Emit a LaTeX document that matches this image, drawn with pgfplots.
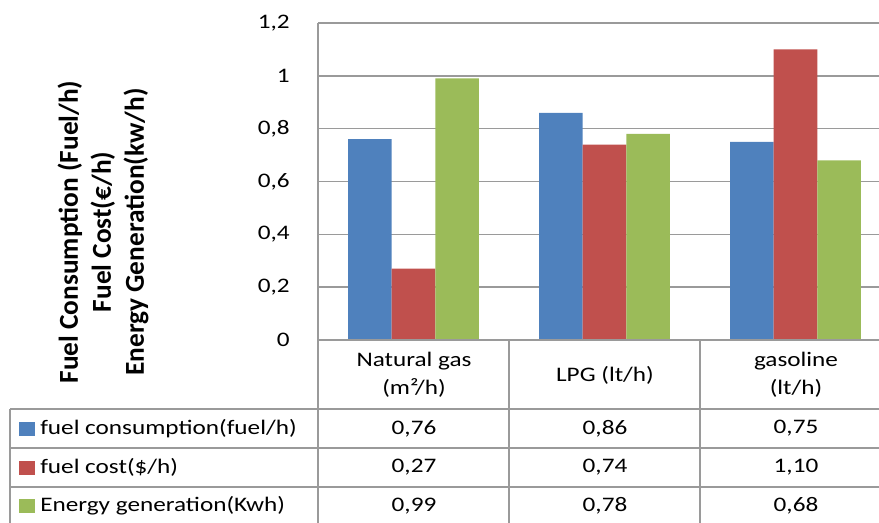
\documentclass[border=0pt]{standalone}
\usepackage{fontspec}
\setmainfont{Carlito}[FakeStretch=1.22]
\newfontfamily\ylabfont{Carlito}
\usepackage{pgfplots}
\pgfplotsset{compat=1.18}

\definecolor{cblue}{HTML}{4F81BD}
\definecolor{cred}{HTML}{C0504D}
\definecolor{cgreen}{HTML}{9BBB59}
\definecolor{lgray}{HTML}{9A9A9A}
\newcommand\tabfont{\fontsize{15.5}{21}\selectfont}

\begin{document}
\begin{tikzpicture}
  \useasboundingbox (0,0) rectangle (659.25pt,-391.5pt);
  \clip (0,0) rectangle (659.25pt,-391.5pt);

  \begin{axis}[
      at={(238.5pt,-255pt)}, anchor=south west,
      width=429.75pt, height=237.75pt, scale only axis,
      xmin=-0.5, xmax=2.5,
      ymin=0, ymax=1.2,
      xtick=\empty,
      ytick={0,0.2,0.4,0.6,0.8,1,1.2},
      ymajorgrids,
      grid style={lgray, line width=1.1pt},
      axis line style={draw=none},
      major tick length=0pt,
      ybar=0pt,
      bar width=0.228,
      /pgf/number format/use comma,
      /pgf/number format/fixed,
      /pgf/number format/precision=1,
      /pgf/number format/assume math mode=true,
      yticklabel style={font=\tabfont, anchor=east, inner sep=0pt, xshift=-21pt},
    ]
    % fuel consumption (fuel/h)
    \addplot[fill=cblue, draw=none] coordinates {(0,0.76) (1,0.86) (2,0.75)};
    % fuel cost ($/h)
    \addplot[fill=cred, draw=none] coordinates {(0,0.27) (1,0.74) (2,1.10)};
    % energy generation (kWh)
    \addplot[fill=cgreen, draw=none] coordinates {(0,0.99) (1,0.78) (2,0.68)};
  \end{axis}

  % data table under the chart (pixel coordinates)
  \begin{scope}[x=0.75pt, y=-0.75pt]
    \begin{scope}[draw=lgray, line width=1.1pt]
      \draw (318,23) -- (318,530);
      \draw (509,340) -- (509,530);
      \draw (700,340) -- (700,530);
      \draw (318,340) -- (890,340);
      \draw (10,409) -- (890,409);
      \draw (10,448) -- (890,448);
      \draw (10,487) -- (890,487);
      \draw (10,409) -- (10,530);
    \end{scope}

    \begin{scope}[every node/.style={font=\tabfont, align=center, inner sep=0pt}]
      \node at (414,375) {Natural gas\\(m²/h)};
      \node at (605,375) {LPG (lt/h)};
      \node at (796,375) {gasoline\\(lt/h)};

      \fill[cblue] (19,421.5) rectangle (35,435.5);
      \node[anchor=west] at (40,428.5) {fuel consumption(fuel/h)};
      \node at (414,428.5) {0,76};
      \node at (605,428.5) {0,86};
      \node at (796,428.5) {0,75};

      \fill[cred] (19,460.5) rectangle (35,474.5);
      \node[anchor=west] at (40,467.5) {fuel cost(\$/h)};
      \node at (414,467.5) {0,27};
      \node at (605,467.5) {0,74};
      \node at (796,467.5) {1,10};

      \fill[cgreen] (19,499) rectangle (35,513);
      \node[anchor=west] at (40,506) {Energy generation(Kwh)};
      \node at (414,506) {0,99};
      \node at (605,506) {0,78};
      \node at (796,506) {0,68};
    \end{scope}

    \node[rotate=90, align=center, font={\ylabfont\bfseries\fontsize{20.5}{24.75}\selectfont}]
      at (103,232) {Fuel Consumption (Fuel/h)\\Fuel Cost(€/h)\\Energy Generation(kw/h)};
  \end{scope}
\end{tikzpicture}
\end{document}
